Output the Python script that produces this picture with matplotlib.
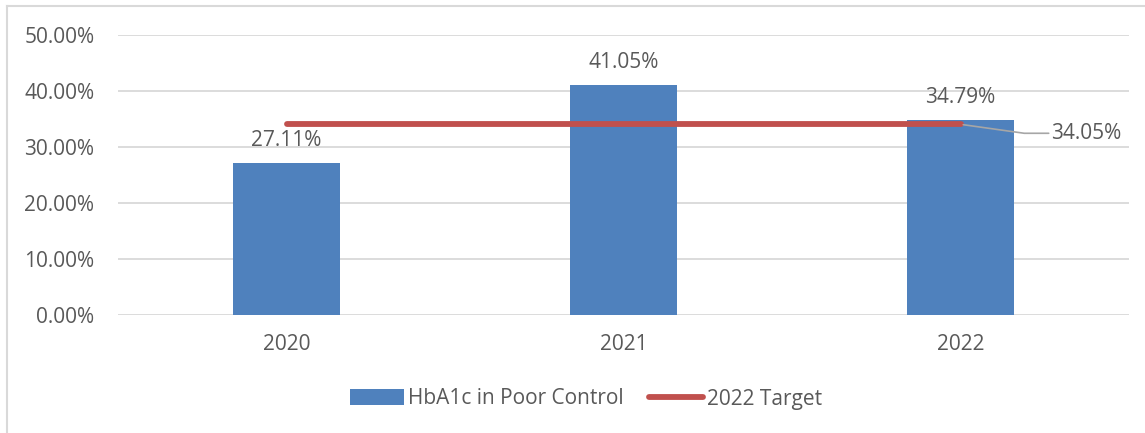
import matplotlib
matplotlib.use("Agg")
import matplotlib.pyplot as plt
from matplotlib.lines import Line2D
from matplotlib.patches import Patch

years = ["2020", "2021", "2022"]
poor_control = [27.11, 41.05, 34.79]
target_2022 = 34.05
y_ticks = [0, 10, 20, 30, 40, 50]

BAR = "#4F81BD"
LINE = "#C0504D"
TEXT = "#595959"
GRID = "#D9D9D9"
FS = 15

plt.rcParams["font.family"] = ["Open Sans", "DejaVu Sans"]

fig = plt.figure(figsize=(11.45, 4.33), dpi=100)
ax = fig.add_axes([118 / 1145, 1 - 315 / 433, 1011 / 1145, 280 / 433])

x = list(range(len(years)))
ax.bar(x, poor_control, width=0.315, color=BAR, zorder=2)
ax.plot([x[0], x[-1]], [target_2022, target_2022], color=LINE, lw=4.2,
        solid_capstyle="round", zorder=3)

for xi, v in zip(x, poor_control):
    ax.annotate(f"{v:.2f}%", (xi, v), xytext=(0, 9), textcoords="offset points",
                ha="center", va="bottom", fontsize=FS, color=TEXT, zorder=4)

# target label with leader line
ax.annotate(f"{target_2022:.2f}%", xy=(x[-1], target_2022),
            xytext=(x[-1] + 0.27, target_2022 - 1.6), textcoords="data",
            ha="left", va="center", fontsize=FS, color=TEXT,
            arrowprops=dict(arrowstyle="-", color="#A6A6A6", lw=1.2,
                            shrinkA=0, shrinkB=2,
                            connectionstyle="angle,angleA=0,angleB=-8,rad=0"),
            zorder=4)

ax.set_xlim(-0.5, 2.5)
ax.set_ylim(0, 50)
ax.set_yticks(y_ticks)
ax.set_yticklabels([f"{t:.2f}%" for t in y_ticks])
ax.set_xticks(x)
ax.set_xticklabels(years)
ax.tick_params(axis="both", length=0, labelsize=FS, labelcolor=TEXT)
ax.tick_params(axis="y", pad=17)
ax.tick_params(axis="x", pad=14)
ax.grid(axis="y", color=GRID, lw=1.3, zorder=0)
for s in ax.spines.values():
    s.set_visible(False)

handles = [Patch(facecolor=BAR, edgecolor="none"),
           Line2D([0], [0], color=LINE, lw=4.2, solid_capstyle="round")]
fig.legend(handles, ["HbA1c in Poor Control", "2022 Target"],
           loc="center", bbox_to_anchor=(586 / 1145, 1 - 399 / 433), ncol=2,
           frameon=False, fontsize=FS, labelcolor=TEXT, handlelength=2.6,
           handleheight=0.8, handletextpad=0.2, columnspacing=1.2)

# outer frame (top and left edges visible)
fig.add_artist(Line2D([7 / 1145, 7 / 1145], [0, 1 - 6 / 433], transform=fig.transFigure,
                      color=GRID, lw=1.5))
fig.add_artist(Line2D([7 / 1145, 1], [1 - 6 / 433, 1 - 6 / 433], transform=fig.transFigure,
                      color=GRID, lw=1.5))

fig.savefig("out.png", dpi=100)
